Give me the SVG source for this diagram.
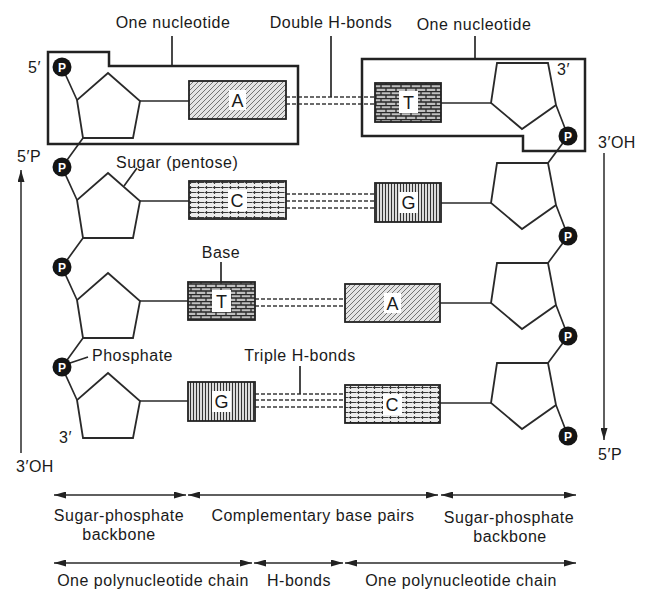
<svg xmlns="http://www.w3.org/2000/svg" width="648" height="591" viewBox="0 0 648 591">
<style>
text{font-family:"Liberation Sans",Arial,sans-serif;fill:#1a1a1a;font-size:16px;letter-spacing:0.5px}
.mid{text-anchor:middle}
.ln{stroke:#2a2a2a;stroke-width:1.7;fill:none;stroke-linejoin:miter}
.box{stroke:#222;stroke-width:2.5;fill:none}
.sugar{stroke:#2a2a2a;stroke-width:1.8;fill:none;stroke-linejoin:miter}
.base{stroke:#222;stroke-width:1.8}
.hb{stroke:#3a3a3a;stroke-width:1.4;stroke-dasharray:4 2;fill:none}
.pc{fill:#141414}
.pt{fill:#fff;font-size:12px;font-weight:bold;text-anchor:middle;letter-spacing:0}
.bl{font-size:18px;text-anchor:middle;letter-spacing:0}
.patch{fill:#fff}
.arr{stroke:#2a2a2a;stroke-width:1.5;fill:none}
</style>
<defs>
<pattern id="hatch" patternUnits="userSpaceOnUse" width="5" height="5">
<rect width="5" height="5" fill="#e4e4e4"/>
<path d="M-1,1 L1,-1 M0,5 L5,0 M4,6 L6,4" stroke="#666" stroke-width="0.9"/>
</pattern>
<pattern id="brick" patternUnits="userSpaceOnUse" width="10" height="7">
<rect width="10" height="7" fill="#c0c0c0"/>
<path d="M0,0.5 H10 M0,4 H10 M1,0.5 V4 M6,4 V7.5" stroke="#2a2a2a" stroke-width="1.3"/>
</pattern>
<pattern id="dots" patternUnits="userSpaceOnUse" width="8" height="5">
<rect width="8" height="5" fill="#ececec"/>
<path d="M0,2.5 H4.5 M6.5,1 V4 M5,2.5 H8" stroke="#3a3a3a" stroke-width="1.2"/>
</pattern>
<pattern id="stripe" patternUnits="userSpaceOnUse" width="3" height="3">
<rect width="3" height="3" fill="#e4e4e4"/>
<path d="M1.5,0 V3" stroke="#333" stroke-width="1.1"/>
</pattern>
<marker id="ah" viewBox="0 0 12 7" refX="12" refY="3.5" markerWidth="12" markerHeight="7" orient="auto-start-reverse" markerUnits="userSpaceOnUse">
<path d="M0,0 L12,3.5 L0,7 z" fill="#222"/>
</marker>
</defs>
<rect width="648" height="591" fill="#fff"/>

<g id="connectors">
<path class="ln" d="M62,67 L77,100 M83,138 L62,167 L77,200 M83,238 L62,267 L77,300 M83,338 L62,367 L77,400"/>
<path class="ln" d="M556,105 L568,136 L548,163 M556,205 L568,236 L548,263 M556,305 L568,336 L548,363 M556,405 L568,436"/>
<path class="ln" d="M140,101 H189 M140,201 H189 M140,301 H188 M140,401 H188 M441,103 H491 M441,203 H491 M440,303 H491 M440,403 H491"/>
<path class="hb" d="M286,97 H375 M286,104 H375"/>
<path class="hb" d="M286,194 H375 M286,201 H375 M286,208 H375"/>
<path class="hb" d="M255,299 H345 M255,306 H345"/>
<path class="hb" d="M255,394 H345 M255,400 H345 M255,407 H345"/>
<path class="ln" d="M172,36 V66 M475,36 V59 M331,36 V97 M137,168 L124,186 M221,262 V282 M70,363 L88,357 M300,366 V394"/>
<line class="arr" x1="21" y1="453" x2="21" y2="170" marker-end="url(#ah)"/>
<line class="arr" x1="604" y1="153" x2="604" y2="440" marker-end="url(#ah)"/>
<line class="arr" x1="54" y1="495" x2="186" y2="495" marker-start="url(#ah)" marker-end="url(#ah)"/>
<line class="arr" x1="188" y1="495" x2="438" y2="495" marker-start="url(#ah)" marker-end="url(#ah)"/>
<line class="arr" x1="441" y1="495" x2="576" y2="495" marker-start="url(#ah)" marker-end="url(#ah)"/>
<line class="arr" x1="54" y1="563" x2="252" y2="563" marker-start="url(#ah)" marker-end="url(#ah)"/>
<line class="arr" x1="254" y1="563" x2="343" y2="563" marker-start="url(#ah)" marker-end="url(#ah)"/>
<line class="arr" x1="345" y1="563" x2="576" y2="563" marker-start="url(#ah)" marker-end="url(#ah)"/>
</g>

<g id="nucleotide-box-left"><path class="box" d="M48,52 H109 V66 H298 V144 H48 Z"/></g>
<g id="nucleotide-box-right"><path class="box" d="M362,59 H585 V151 H523 V136 H362 Z"/></g>

<g id="sugars-left">
<polygon class="sugar" points="108,73 140,101 133,138 83,138 77,100"/>
<polygon class="sugar" points="108,173 140,201 133,238 83,238 77,200"/>
<polygon class="sugar" points="108,273 140,301 133,338 83,338 77,300"/>
<polygon class="sugar" points="108,373 140,401 133,438 83,438 77,400"/>
</g>
<g id="sugars-right">
<polygon class="sugar" points="497,63 548,63 556,105 522,129 491,103"/>
<polygon class="sugar" points="497,163 548,163 556,205 522,229 491,203"/>
<polygon class="sugar" points="497,263 548,263 556,305 522,329 491,303"/>
<polygon class="sugar" points="497,363 548,363 556,405 522,429 491,403"/>
</g>

<g id="phosphates-left">
<circle class="pc" cx="62" cy="67" r="9.5"/><text class="pt" x="62" y="71.5">P</text>
<circle class="pc" cx="62" cy="167" r="9.5"/><text class="pt" x="62" y="171.5">P</text>
<circle class="pc" cx="62" cy="267" r="9.5"/><text class="pt" x="62" y="271.5">P</text>
<circle class="pc" cx="62" cy="367" r="9.5"/><text class="pt" x="62" y="371.5">P</text>
</g>
<g id="phosphates-right">
<circle class="pc" cx="568" cy="136" r="9.5"/><text class="pt" x="568" y="140.5">P</text>
<circle class="pc" cx="568" cy="236" r="9.5"/><text class="pt" x="568" y="240.5">P</text>
<circle class="pc" cx="568" cy="336" r="9.5"/><text class="pt" x="568" y="340.5">P</text>
<circle class="pc" cx="568" cy="436" r="9.5"/><text class="pt" x="568" y="440.5">P</text>
</g>

<g id="base-A1"><rect class="base" x="189" y="81" width="97" height="38" fill="url(#hatch)"/><rect class="patch" x="229" y="90" width="17" height="20"/><text class="bl" x="237.5" y="107">A</text></g>
<g id="base-C1"><rect class="base" x="189" y="181" width="97" height="38" fill="url(#dots)"/><rect class="patch" x="228" y="190" width="19" height="21"/><text class="bl" x="237" y="207">C</text></g>
<g id="base-T1"><rect class="base" x="188" y="282" width="67" height="38" fill="url(#brick)"/><rect class="patch" x="212" y="290" width="19" height="22"/><text class="bl" x="221.5" y="307.5">T</text></g>
<g id="base-G1"><rect class="base" x="188" y="382" width="67" height="39" fill="url(#stripe)"/><rect class="patch" x="212" y="391" width="19" height="21"/><text class="bl" x="221.5" y="408">G</text></g>
<g id="base-T2"><rect class="base" x="375" y="83" width="66" height="39" fill="url(#brick)"/><rect class="patch" x="399" y="91" width="19" height="22"/><text class="bl" x="408.5" y="109">T</text></g>
<g id="base-G2"><rect class="base" x="375" y="183" width="66" height="39" fill="url(#stripe)"/><rect class="patch" x="399" y="192" width="19" height="21"/><text class="bl" x="408.5" y="209">G</text></g>
<g id="base-A2"><rect class="base" x="345" y="284" width="95" height="38" fill="url(#hatch)"/><rect class="patch" x="384" y="293" width="17" height="20"/><text class="bl" x="392.5" y="310">A</text></g>
<g id="base-C2"><rect class="base" x="345" y="385" width="95" height="38" fill="url(#dots)"/><rect class="patch" x="383" y="394" width="19" height="21"/><text class="bl" x="392" y="411">C</text></g>

<g id="labels">
<text class="mid" x="173" y="28">One nucleotide</text>
<text class="mid" x="331" y="28">Double H-bonds</text>
<text class="mid" x="474" y="30">One nucleotide</text>
<text x="28" y="73">5′</text>
<text x="557" y="75">3′</text>
<text x="116" y="168">Sugar (pentose)</text>
<text x="17" y="162">5′P</text>
<text x="598" y="148">3′OH</text>
<text class="mid" x="221" y="258">Base</text>
<text x="92" y="361">Phosphate</text>
<text class="mid" x="300" y="361">Triple H-bonds</text>
<text x="59" y="443">3′</text>
<text x="16" y="472">3′OH</text>
<text x="598" y="460">5′P</text>
<text class="mid" x="119" y="521">Sugar-phosphate</text>
<text class="mid" x="119" y="540">backbone</text>
<text class="mid" x="313" y="521">Complementary base pairs</text>
<text class="mid" x="509" y="523">Sugar-phosphate</text>
<text class="mid" x="510" y="542">backbone</text>
<text class="mid" x="153" y="586">One polynucleotide chain</text>
<text class="mid" x="299" y="586">H-bonds</text>
<text class="mid" x="461" y="586">One polynucleotide chain</text>
</g>
</svg>
